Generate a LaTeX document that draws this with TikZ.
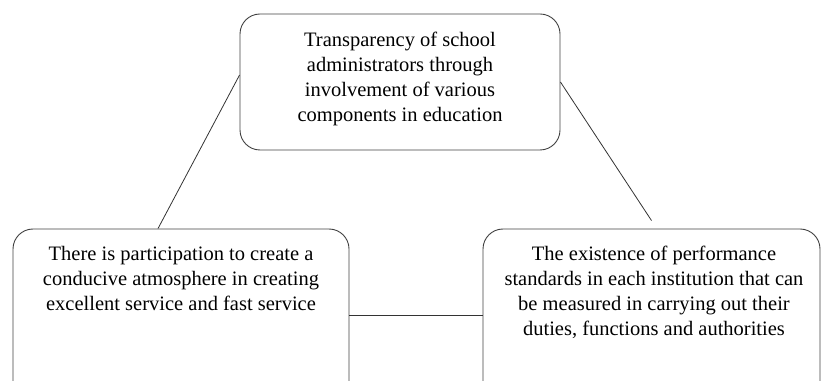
\documentclass[tikz,border=0pt]{standalone}
\usepackage{fontspec}
\setmainfont{Liberation Serif}
\newfontfamily\ovserif{Liberation Serif}
\usetikzlibrary{positioning}

\begin{document}
\begin{tikzpicture}[x=1pt,y=1pt]
\tikzstyle{every node}+=[inner sep=0pt]
\tikzstyle{ovbox}=[draw=black!75,line width=0.9pt,rounded corners=20pt]
\tikzstyle{ovtext}=[align=center,font=\ovserif\fontsize{20.5}{25}\selectfont]
\tikzstyle{ovlink}=[draw=black!80,line width=0.8pt]
\clip (0,0) rectangle (821,380);
\node [ovbox,minimum width=320pt,minimum height=136pt] (trans) at (400,298) {};
\node [ovbox,minimum width=336pt,minimum height=172pt] (partic) at (181,65) {};
\node [ovbox,minimum width=337pt,minimum height=172pt] (perform) at (651.5,65) {};
\node [ovtext,below=18pt of trans.north] (transtxt) {Transparency of school\\administrators through\\involvement of various\\components in education};
\node [ovtext,below=18pt of partic.north] (partictxt) {There is participation to create a\\conducive atmosphere in creating\\excellent service and fast service};
\node [ovtext,below=17pt of perform.north,xshift=2.5pt] (performtxt) {The existence of performance\\standards in each institution that can\\be measured in carrying out their\\duties, functions and authorities};
\coordinate (performtip) at ([yshift=8pt]perform.north);
\draw [ovlink] ([yshift=7pt]trans.west) -- ([xshift=-23pt]partic.north);
\draw [ovlink] (trans.east) -- (performtip);
\draw [ovlink] (partic.east) -- (perform.west);
\end{tikzpicture}
\end{document}
